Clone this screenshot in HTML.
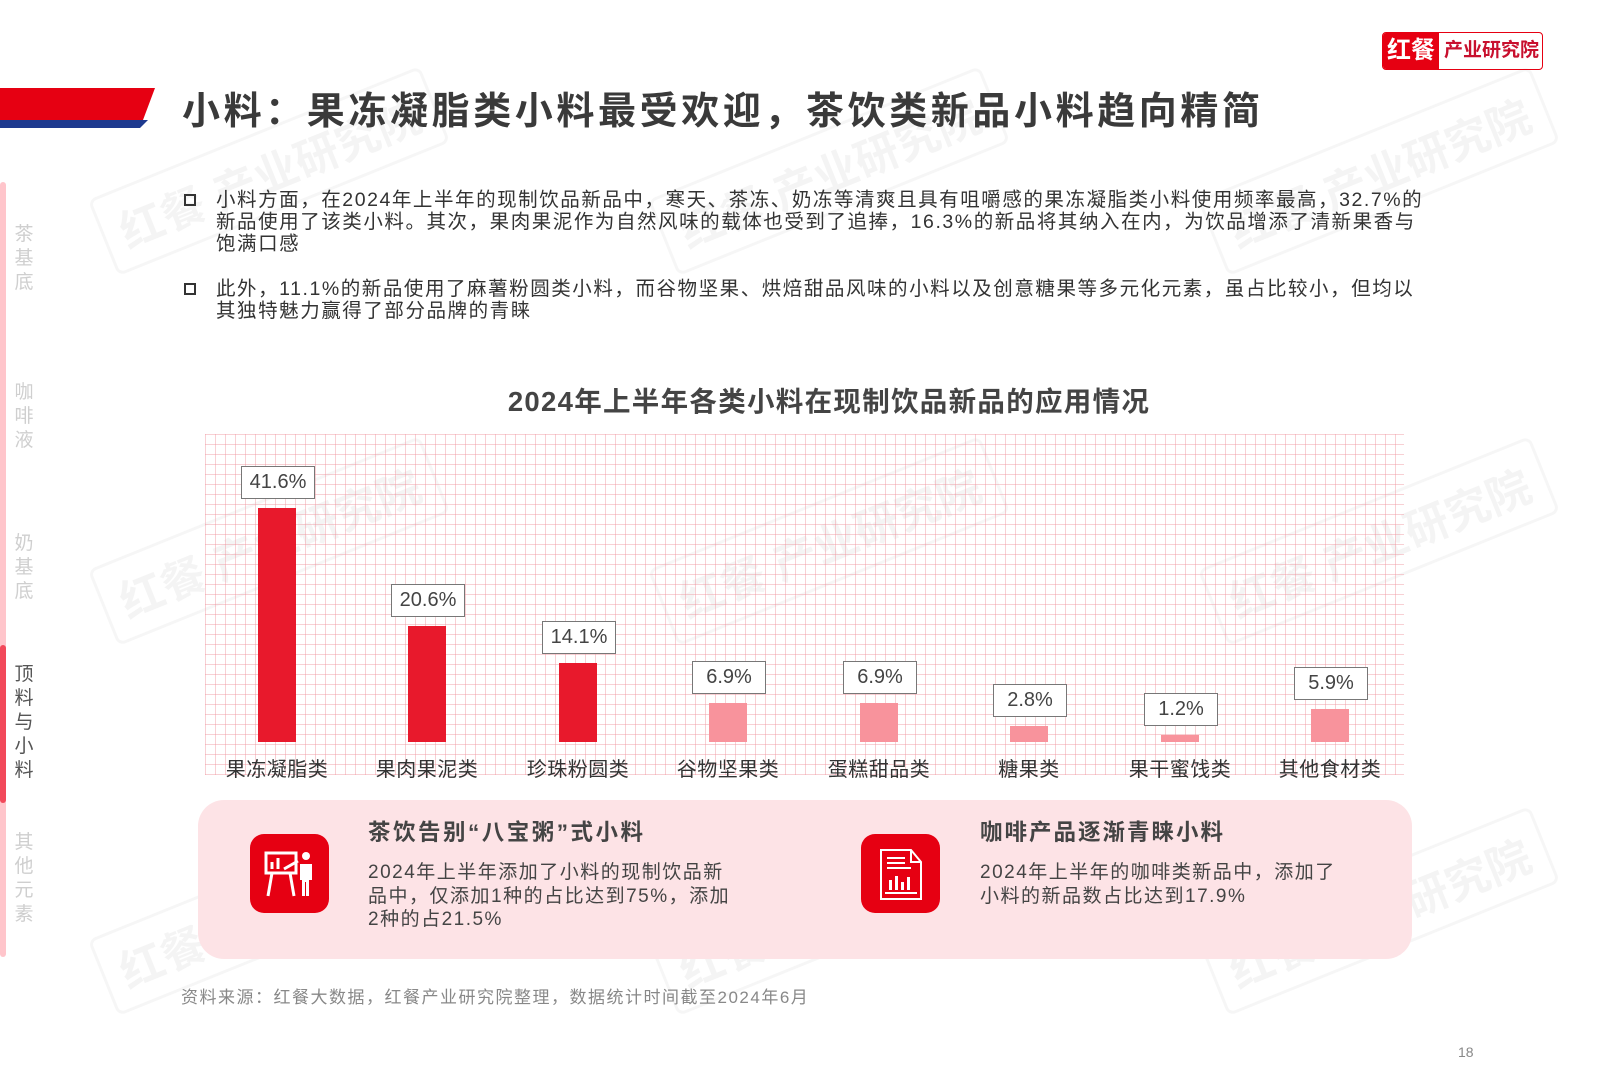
<!DOCTYPE html>
<html><head><meta charset="utf-8"><style>
body{margin:0;width:1600px;height:1066px;position:relative;background:#fff;overflow:hidden;font-family:"Liberation Sans","Noto Sans CJK SC",sans-serif;}
.a{position:absolute;white-space:nowrap;}
.grid{position:absolute;left:205px;top:434px;width:1199px;height:341px;
background-image:repeating-linear-gradient(90deg,rgba(240,150,160,.45) 0 1px,transparent 1px 10px),repeating-linear-gradient(0deg,rgba(240,150,160,.45) 0 1px,transparent 1px 10px);}
.bar{position:absolute;width:38px;bottom:324px;}
.lab{position:absolute;width:72px;height:31px;border:1.5px solid #777;background:#fff;text-align:center;line-height:31px;font-size:20px;color:#444;}
.cat{position:absolute;top:753px;width:140px;text-align:center;font-size:20px;color:#333;letter-spacing:0.5px}
.side{position:absolute;left:14px;width:20px;font-size:19px;line-height:24px;color:#cfcfcf;text-align:center;white-space:normal;}
.wm{position:absolute;font-size:44px;font-weight:bold;color:rgba(0,0,0,.045);transform:rotate(-22deg);border:3px solid rgba(0,0,0,.035);padding:6px 16px;border-radius:8px;}
</style></head><body>
<div class="wm" style="left:90px;top:130px">红餐 产业研究院</div>
<div class="wm" style="left:650px;top:130px">红餐 产业研究院</div>
<div class="wm" style="left:1200px;top:130px">红餐 产业研究院</div>
<div class="wm" style="left:90px;top:500px">红餐 产业研究院</div>
<div class="wm" style="left:650px;top:500px">红餐 产业研究院</div>
<div class="wm" style="left:1200px;top:500px">红餐 产业研究院</div>
<div class="wm" style="left:90px;top:870px">红餐 产业研究院</div>
<div class="wm" style="left:650px;top:870px">红餐 产业研究院</div>
<div class="wm" style="left:1200px;top:870px">红餐 产业研究院</div>

<svg class="a" style="left:0;top:86px" width="160" height="45"><polygon points="0,34 148,34 140,42 0,42" fill="#1e3a8f"/><polygon points="0,2 155,2 143,34 0,34" fill="#e60012"/></svg>
<div class="a" style="left:182px;top:80px;font-size:38px;letter-spacing:3.6px;font-weight:bold;color:#3a3a3a">小料：果冻凝脂类小料最受欢迎，茶饮类新品小料趋向精简</div>
<div class="a" style="left:1382px;top:32px;width:159px;height:36px;border:1.5px solid #e60012;border-radius:4px;overflow:hidden;">
<div style="position:absolute;left:0;top:0;width:56px;height:36px;background:#e60012;color:#fff;font-size:24px;font-weight:bold;text-align:center;line-height:36px">红餐</div>
<div style="position:absolute;left:58px;top:0;width:101px;height:36px;color:#c8102e;font-size:19px;font-weight:bold;text-align:center;line-height:36px">产业研究院</div></div>

<div class="side" style="top:223px">茶基底</div>
<div class="side" style="top:381px">咖啡液</div>
<div class="side" style="top:532px">奶基底</div>
<div class="side" style="top:663px;color:#555">顶料与小料</div>
<div class="side" style="top:831px">其他元素</div>
<div class="a" style="left:0;top:182px;width:6px;height:775px;background:#ffc5cb;border-radius:3px"></div>
<div class="a" style="left:0;top:645px;width:6px;height:158px;background:#f2495a;border-radius:3px"></div>

<div class="a" style="left:184px;top:194px;width:12px;height:12px;border:2.5px solid #333;box-sizing:border-box"></div>
<div class="a" style="left:216px;top:189px;font-size:19.5px;letter-spacing:1.55px;line-height:22px;color:#333">小料方面，在2024年上半年的现制饮品新品中，寒天、茶冻、奶冻等清爽且具有咀嚼感的果冻凝脂类小料使用频率最高，32.7%的<br>新品使用了该类小料。其次，果肉果泥作为自然风味的载体也受到了追捧，16.3%的新品将其纳入在内，为饮品增添了清新果香与<br>饱满口感</div>
<div class="a" style="left:184px;top:283px;width:12px;height:12px;border:2.5px solid #333;box-sizing:border-box"></div>
<div class="a" style="left:216px;top:278px;font-size:19.5px;letter-spacing:1.55px;line-height:22px;color:#333">此外，11.1%的新品使用了麻薯粉圆类小料，而谷物坚果、烘焙甜品风味的小料以及创意糖果等多元化元素，虽占比较小，但均以<br>其独特魅力赢得了部分品牌的青睐</div>

<div class="a" style="left:0;width:1658px;text-align:center;top:379px;font-size:27.5px;letter-spacing:1.3px;font-weight:bold;color:#444">2024年上半年各类小料在现制饮品新品的应用情况</div>
<div class="grid"></div>

<div class="bar" style="left:258px;height:234px;background:#e8192c"></div>
<div class="bar" style="left:408px;height:116px;background:#e8192c"></div>
<div class="bar" style="left:559px;height:79px;background:#e8192c"></div>
<div class="bar" style="left:709px;height:39px;background:#f8939c"></div>
<div class="bar" style="left:860px;height:39px;background:#f8939c"></div>
<div class="bar" style="left:1010px;height:16px;background:#f8939c"></div>
<div class="bar" style="left:1161px;height:7px;background:#f8939c"></div>
<div class="bar" style="left:1311px;height:33px;background:#f8939c"></div>

<div class="lab" style="left:241px;top:466px">41.6%</div>
<div class="lab" style="left:391px;top:584px">20.6%</div>
<div class="lab" style="left:542px;top:621px">14.1%</div>
<div class="lab" style="left:692px;top:661px">6.9%</div>
<div class="lab" style="left:843px;top:661px">6.9%</div>
<div class="lab" style="left:993px;top:684px">2.8%</div>
<div class="lab" style="left:1144px;top:693px">1.2%</div>
<div class="lab" style="left:1294px;top:667px">5.9%</div>

<div class="cat" style="left:207px">果冻凝脂类</div>
<div class="cat" style="left:357px">果肉果泥类</div>
<div class="cat" style="left:508px">珍珠粉圆类</div>
<div class="cat" style="left:658px">谷物坚果类</div>
<div class="cat" style="left:809px">蛋糕甜品类</div>
<div class="cat" style="left:959px">糖果类</div>
<div class="cat" style="left:1110px">果干蜜饯类</div>
<div class="cat" style="left:1260px">其他食材类</div>

<div class="a" style="left:198px;top:800px;width:1214px;height:159px;background:#fde3e6;border-radius:26px"></div>
<div class="a" style="left:250px;top:834px;width:79px;height:79px;background:#e60012;border-radius:14px"></div>
<svg class="a" style="left:250px;top:834px" width="79" height="79"><g stroke="#fff" stroke-width="3" fill="none"><rect x="16" y="19" width="30" height="20"/><line x1="22" y1="39" x2="18" y2="62"/><line x1="40" y1="39" x2="44" y2="62"/><line x1="22" y1="35" x2="22" y2="28"/><line x1="28" y1="35" x2="28" y2="24"/><line x1="34" y1="35" x2="48" y2="27"/></g><circle cx="56" cy="22" r="4" fill="#fff"/><path d="M50 30h12v16h-3v16h-3v-14h-1v14h-3v-16h-2z" fill="#fff"/></svg>
<div class="a" style="left:861px;top:834px;width:79px;height:79px;background:#e60012;border-radius:14px"></div>
<svg class="a" style="left:861px;top:834px" width="79" height="79"><g stroke="#fff" stroke-width="2" fill="none"><path d="M20 16h30l10 12v37h-40z"/><path d="M50 16v12h10"/><line x1="26" y1="24" x2="44" y2="24"/><line x1="26" y1="29" x2="44" y2="29"/><line x1="26" y1="34" x2="50" y2="34"/><line x1="24" y1="59" x2="56" y2="59"/></g><g fill="#fff"><rect x="28" y="46" width="3" height="10"/><rect x="34" y="42" width="3" height="14"/><rect x="40" y="48" width="3" height="8"/><rect x="46" y="43" width="3" height="13"/></g></svg>

<div class="a" style="left:368px;top:815px;font-size:22.5px;letter-spacing:2.5px;font-weight:bold;color:#444">茶饮告别“八宝粥”式小料</div>
<div class="a" style="left:368px;top:861px;font-size:19px;letter-spacing:1.5px;line-height:23.5px;color:#444">2024年上半年添加了小料的现制饮品新<br>品中，仅添加1种的占比达到75%，添加<br>2种的占21.5%</div>
<div class="a" style="left:980px;top:815px;font-size:22.5px;letter-spacing:2px;font-weight:bold;color:#444">咖啡产品逐渐青睐小料</div>
<div class="a" style="left:980px;top:861px;font-size:19px;letter-spacing:1.5px;line-height:23.5px;color:#444">2024年上半年的咖啡类新品中，添加了<br>小料的新品数占比达到17.9%</div>

<div class="a" style="left:181px;top:983px;font-size:17px;letter-spacing:1.5px;color:#888">资料来源：红餐大数据，红餐产业研究院整理，数据统计时间截至2024年6月</div>
<div class="a" style="left:1458px;top:1044px;font-size:14px;color:#888">18</div>
</body></html>
